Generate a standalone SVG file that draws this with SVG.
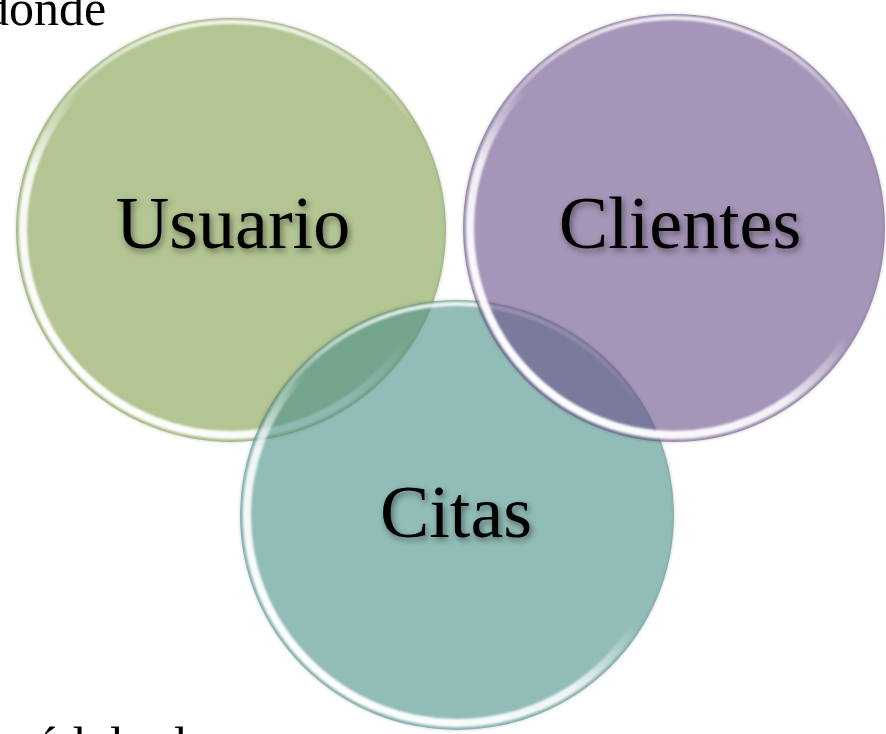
<svg xmlns="http://www.w3.org/2000/svg" width="886" height="734" viewBox="0 0 886 734">
<defs>
<style>
.lbl{font-family:"Liberation Serif","Times New Roman",serif;font-size:74px;fill:#000;text-anchor:middle;filter:url(#tshadow)}
.body{font-family:"Liberation Serif","Times New Roman",serif;font-size:50px;fill:#000}
.rim{fill:none;stroke:url(#rimGrad);stroke-width:8;filter:url(#soft)}
.top{fill:none;stroke:url(#topGrad);stroke-width:4;filter:url(#soft)}
.edge{fill:none;stroke:#000;stroke-opacity:0.12;stroke-width:2;filter:url(#soft)}
</style>
<linearGradient id="rimGrad" x1="0.85" y1="0.1" x2="0.2" y2="0.95">
<stop offset="0" stop-color="#fff" stop-opacity="0"/>
<stop offset="0.45" stop-color="#fff" stop-opacity="0"/>
<stop offset="0.65" stop-color="#fff" stop-opacity="0.85"/>
<stop offset="1" stop-color="#fff" stop-opacity="1"/>
</linearGradient>
<linearGradient id="topGrad" x1="0" y1="0" x2="0" y2="1">
<stop offset="0" stop-color="#fff" stop-opacity="0.85"/>
<stop offset="0.25" stop-color="#fff" stop-opacity="0"/>
<stop offset="1" stop-color="#fff" stop-opacity="0"/>
</linearGradient>
<filter id="soft" x="-10%" y="-10%" width="120%" height="120%">
<feGaussianBlur stdDeviation="1.3"/>
</filter>
<filter id="tshadow" x="-20%" y="-30%" width="140%" height="160%">
<feDropShadow dx="2" dy="3" stdDeviation="3" flood-color="#000" flood-opacity="0.45"/>
</filter>
</defs>
<text class="body" x="-16" y="25">donde</text>
<text class="body" x="-4" y="762">módulo de</text>
<g id="usuario">
<ellipse cx="231" cy="230" rx="215" ry="212" fill="rgb(128,158,73)" fill-opacity="0.6"/>
<ellipse class="edge" cx="231" cy="230" rx="215" ry="212"/>
<ellipse class="rim" cx="231" cy="230" rx="208" ry="205"/>
<ellipse class="top" cx="231" cy="230" rx="211" ry="208"/>
<text class="lbl" x="233" y="248">Usuario</text>
</g>
<g id="citas">
<ellipse cx="457" cy="515" rx="217" ry="215" fill="rgb(72,143,137)" fill-opacity="0.6"/>
<ellipse class="edge" cx="457" cy="515" rx="217" ry="215"/>
<ellipse class="rim" cx="457" cy="515" rx="210" ry="208"/>
<ellipse class="top" cx="457" cy="515" rx="213" ry="211"/>
<text class="lbl" x="456" y="537">Citas</text>
</g>
<g id="clientes">
<ellipse cx="674" cy="228" rx="211" ry="214" fill="rgb(105,78,137)" fill-opacity="0.6"/>
<ellipse class="edge" cx="674" cy="228" rx="211" ry="214"/>
<ellipse class="rim" cx="674" cy="228" rx="204" ry="207"/>
<ellipse class="top" cx="674" cy="228" rx="207" ry="210"/>
<text class="lbl" x="680" y="248">Clientes</text>
</g>
<g id="connectors"></g>
</svg>
